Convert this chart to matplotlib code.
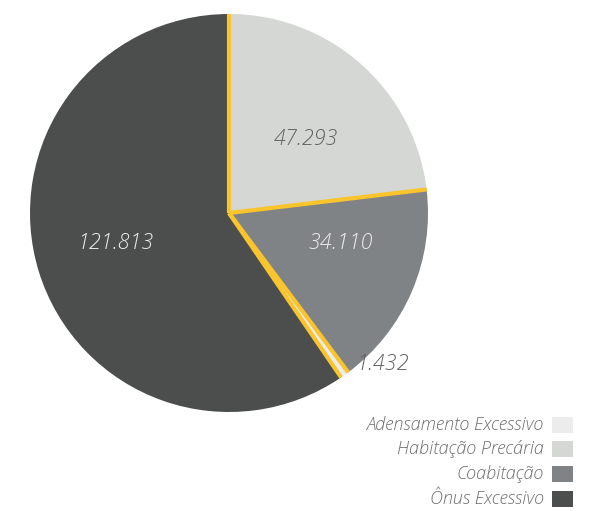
import numpy as np
import matplotlib
matplotlib.use("Agg")
from matplotlib import pyplot as plt

categorias = ["Habitação Precária", "Coabitação", "Adensamento Excessivo", "Ônus Excessivo"]
valores = [47.293, 34.110, 1.432, 121.813]
rotulos = ["47.293", "34.110", "1.432", "121.813"]
cores = ["#d5d7d5", "#808386", "#ececec", "#4c4d4d"]

legenda_ordem = ["Adensamento Excessivo", "Habitação Precária", "Coabitação", "Ônus Excessivo"]

W, H = 595, 511
fig = plt.figure(figsize=(W / 100, H / 100), dpi=100)
ax = fig.add_axes([0, 0, 1, 1])

cx, cy, r = 229, H - 213, 199
ax.pie(valores, colors=cores, startangle=90, counterclock=False,
       center=(cx, cy), radius=r, frame=True,
       wedgeprops=dict(linewidth=0))
ax.set_xlim(0, W)
ax.set_ylim(0, H)
ax.axis("off")

# bordas amarelas so nos raios
total = sum(valores)
ang = 90.0
bordas = [ang]
for v in valores:
    ang -= v / total * 360
    bordas.append(ang)
for a in bordas[:-1]:
    t = np.radians(a)
    ax.plot([cx, cx + r * np.cos(t)], [cy, cy + r * np.sin(t)],
            color="#f9c42c", lw=3, solid_capstyle="butt")

fonte = dict(family="Open Sans", style="italic", weight="light")
pos = [(306, 139, "#626262"), (341, 243, "#ececec"), (383, 364, "#626262"), (115, 243, "#ececec")]
for (x, y, c), t in zip(pos, rotulos):
    ax.text(x, H - y, t, ha="center", va="center", fontsize=15.5, color=c, **fonte)

cor_de = dict(zip(categorias, cores))
for i, nome in enumerate(legenda_ordem):
    y = H - (424.5 + i * 24.7)
    ax.text(544, y, nome, ha="right", va="center", fontsize=13, color="#6e6e6e", **fonte)
    ax.add_patch(plt.Rectangle((552, y - 8), 21, 16, color=cor_de[nome], lw=0))

fig.savefig("out.png", dpi=100)
